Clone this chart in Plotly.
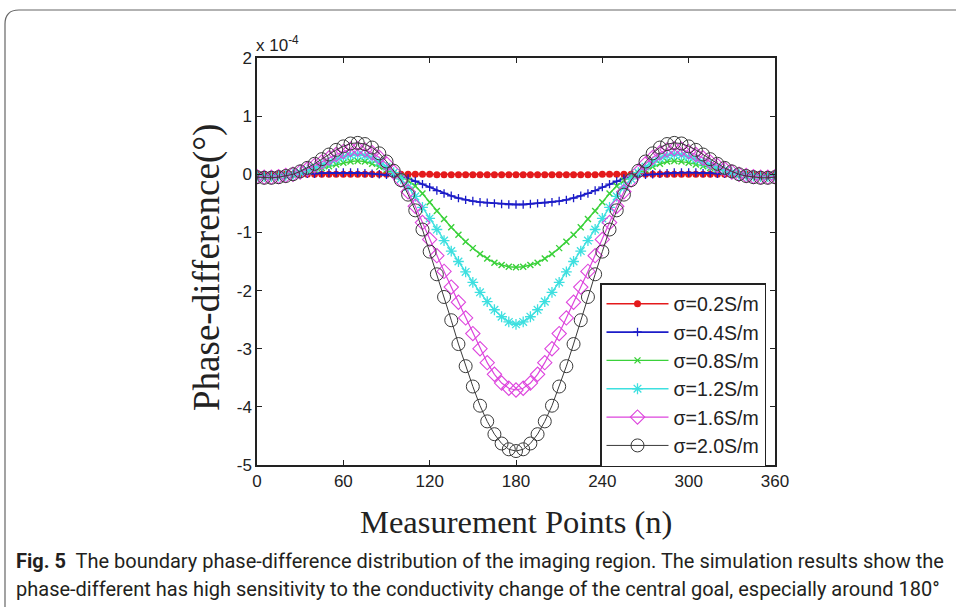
import plotly.graph_objects as go

# ---------------- data ----------------
x_points = list(range(0, 361, 5))

sigma_02 = [0.00, 0.00, 0.00, 0.00, 0.00, 0.00, 0.00, 0.00, 0.00, 0.00, 0.00, 0.00,
            0.00, 0.00, 0.00, 0.00, 0.00, 0.00, 0.00, 0.00, 0.00, 0.00, 0.00, 0.00,
            0.00, -0.01, -0.01, -0.01, -0.01, -0.01, -0.01, -0.01, -0.01, -0.01, -0.01, -0.01,
            -0.01,
            -0.01, -0.01, -0.01, -0.01, -0.01, -0.01, -0.01, -0.01, -0.01, -0.01, -0.01, 0.00,
            0.00, 0.00, 0.00, 0.00, 0.00, 0.00, 0.00, 0.00, 0.00, 0.00, 0.00, 0.00,
            0.00, 0.00, 0.00, 0.00, 0.00, 0.00, 0.00, 0.00, 0.00, 0.00, 0.00, 0.00]

sigma_04 = [-0.02, -0.02, -0.02, -0.01, -0.01, 0.00, 0.00, 0.01, 0.01, 0.02, 0.02, 0.03,
            0.03, 0.03, 0.03, 0.02, 0.01, 0.00, -0.01, -0.02, -0.04, -0.07, -0.12, -0.17,
            -0.22, -0.28, -0.33, -0.37, -0.41, -0.44, -0.46, -0.48, -0.49, -0.50, -0.51, -0.52,
            -0.52,
            -0.52, -0.51, -0.50, -0.49, -0.48, -0.46, -0.44, -0.41, -0.37, -0.33, -0.28, -0.22,
            -0.17, -0.12, -0.07, -0.04, -0.02, -0.01, 0.00, 0.01, 0.02, 0.03, 0.03, 0.03,
            0.03, 0.02, 0.02, 0.01, 0.01, 0.00, 0.00, -0.01, -0.01, -0.02, -0.02, -0.02]

sigma_08 = [-0.02, -0.03, -0.03, -0.02, -0.01, 0.00, 0.02, 0.05, 0.08, 0.11, 0.14, 0.17,
            0.20, 0.22, 0.23, 0.22, 0.18, 0.13, 0.08, 0.02, -0.04, -0.11, -0.20, -0.33,
            -0.48, -0.63, -0.77, -0.91, -1.04, -1.16, -1.27, -1.37, -1.45, -1.52, -1.56, -1.59,
            -1.60,
            -1.59, -1.56, -1.52, -1.45, -1.37, -1.27, -1.16, -1.04, -0.91, -0.77, -0.63, -0.48,
            -0.33, -0.20, -0.11, -0.04, 0.02, 0.08, 0.13, 0.18, 0.22, 0.23, 0.22, 0.20,
            0.17, 0.14, 0.11, 0.08, 0.05, 0.02, 0.00, -0.01, -0.02, -0.03, -0.03, -0.02]

sigma_12 = [-0.03, -0.04, -0.04, -0.03, -0.02, 0.00, 0.03, 0.07, 0.11, 0.16, 0.21, 0.26,
            0.30, 0.33, 0.34, 0.32, 0.28, 0.21, 0.13, 0.03, -0.08, -0.22, -0.38, -0.57,
            -0.76, -0.95, -1.14, -1.32, -1.50, -1.68, -1.86, -2.03, -2.19, -2.33, -2.45, -2.54,
            -2.58,
            -2.54, -2.45, -2.33, -2.19, -2.03, -1.86, -1.68, -1.50, -1.32, -1.14, -0.95, -0.76,
            -0.57, -0.38, -0.22, -0.08, 0.03, 0.13, 0.21, 0.28, 0.32, 0.34, 0.33, 0.30,
            0.26, 0.21, 0.16, 0.11, 0.07, 0.03, 0.00, -0.02, -0.03, -0.04, -0.04, -0.03]

sigma_16 = [-0.04, -0.05, -0.05, -0.04, -0.02, 0.00, 0.04, 0.09, 0.15, 0.21, 0.28, 0.34,
            0.39, 0.43, 0.44, 0.42, 0.37, 0.29, 0.18, 0.04, -0.10, -0.30, -0.55, -0.83,
            -1.12, -1.40, -1.67, -1.94, -2.20, -2.47, -2.74, -3.00, -3.24, -3.44, -3.59, -3.68,
            -3.71,
            -3.68, -3.59, -3.44, -3.24, -3.00, -2.74, -2.47, -2.20, -1.94, -1.67, -1.40, -1.12,
            -0.83, -0.55, -0.30, -0.10, 0.04, 0.18, 0.29, 0.37, 0.42, 0.44, 0.43, 0.39,
            0.34, 0.28, 0.21, 0.15, 0.09, 0.04, 0.00, -0.02, -0.04, -0.05, -0.05, -0.04]

sigma_20 = [-0.05, -0.06, -0.06, -0.05, -0.03, 0.00, 0.05, 0.11, 0.18, 0.26, 0.34, 0.42,
            0.48, 0.53, 0.54, 0.52, 0.46, 0.36, 0.22, 0.06, -0.10, -0.35, -0.62, -0.95,
            -1.33, -1.72, -2.11, -2.51, -2.92, -3.30, -3.65, -3.98, -4.25, -4.47, -4.63, -4.73,
            -4.76,
            -4.73, -4.63, -4.47, -4.25, -3.98, -3.65, -3.30, -2.92, -2.51, -2.11, -1.72, -1.33,
            -0.95, -0.62, -0.35, -0.10, 0.06, 0.22, 0.36, 0.46, 0.52, 0.54, 0.53, 0.48,
            0.42, 0.34, 0.26, 0.18, 0.11, 0.05, 0.00, -0.03, -0.05, -0.06, -0.06, -0.05]

series_names = ["σ=0.2S/m", "σ=0.4S/m", "σ=0.8S/m", "σ=1.2S/m", "σ=1.6S/m", "σ=2.0S/m"]
series_values = [sigma_02, sigma_04, sigma_08, sigma_12, sigma_16, sigma_20]

x_tick_vals = [0, 60, 120, 180, 240, 300, 360]
x_tick_text = ["0", "60", "120", "180", "240", "300", "360"]
y_tick_vals = [-5, -4, -3, -2, -1, 0, 1, 2]
y_tick_text = ["-5", "-4", "-3", "-2", "-1", "0", "1", "2"]

x_title = "Measurement Points (n)"
y_title = "Phase-difference(°)"
exponent_text = "x 10<sup>-4</sup>"
caption_line1 = "<b>Fig. 5</b>  The boundary phase-difference distribution of the imaging region. The simulation results show the"
caption_line2 = "phase-different has high sensitivity to the conductivity change of the central goal, especially around 180°"

# ---------------- styles ----------------
W, H = 956, 607
L, R, T, B = 257, 775, 58, 465   # plot-area pixel box


def px_x(p):
    return (p - L) / (R - L)


def px_y(p):
    return (B - p) / (B - T)


styles = [
    dict(color="#e41a1c", symbol="circle", size=7, lw=1.6, mlw=0),
    dict(color="#1c1cc8", symbol="cross-thin", size=6, lw=1.8, mlw=1.3),
    dict(color="#3ad13a", symbol="x-thin", size=6, lw=1.4, mlw=1.4),
    dict(color="#3ee0e0", symbol="asterisk", size=9, lw=1.4, mlw=1.3),
    dict(color="#dd44dd", symbol="diamond-open", size=11, lw=1.2, mlw=1.1),
    dict(color="#3a3a3a", symbol="circle-open", size=13, lw=1.0, mlw=1.0),
]

fig = go.Figure()
for i, (name, vals, st) in enumerate(zip(series_names, series_values, styles)):
    fig.add_trace(go.Scatter(
        x=x_points, y=vals, name=name, mode="lines+markers",
        legendgroup="g%d" % i,
        line=dict(color=st["color"], width=st["lw"]),
        marker=dict(symbol=st["symbol"], size=st["size"], color=st["color"],
                    line=dict(color=st["color"], width=st["mlw"])),
    ))

axis_common = dict(
    showline=True, linecolor="#222", linewidth=1.5, mirror="ticks",
    ticks="inside", ticklen=5, tickwidth=1, tickcolor="#222",
    showgrid=False, zeroline=False,
    tickfont=dict(family="Liberation Sans, Arial, sans-serif", size=17, color="#222"),
)

fig.update_layout(
    width=W, height=H,
    margin=dict(l=L, r=W - R, t=T, b=H - B, autoexpand=False),
    paper_bgcolor="white", plot_bgcolor="white",
    xaxis=dict(range=[0, 360], tickvals=x_tick_vals, ticktext=x_tick_text, **axis_common),
    yaxis=dict(range=[-5, 2], tickvals=y_tick_vals, ticktext=y_tick_text, **axis_common),
    legend=dict(
        x=px_x(600), y=px_y(283), xanchor="left", yanchor="top",
        bgcolor="white", bordercolor="#222", borderwidth=1.5,
        font=dict(family="Liberation Sans, Arial, sans-serif", size=19.5, color="#222"),
        itemwidth=62, tracegroupgap=0,
    ),
    showlegend=True,
)

annotations = [
    dict(text=exponent_text, x=px_x(254), y=px_y(44), xanchor="left", yanchor="middle",
         font=dict(family="Liberation Sans, Arial, sans-serif", size=17, color="#222")),
    dict(text=y_title, x=px_x(207), y=px_y(268), xanchor="center", yanchor="middle", textangle=-90,
         font=dict(family="Liberation Serif, Times New Roman, serif", size=37, color="#222")),
    dict(text=x_title, x=px_x(516), y=px_y(522), xanchor="center", yanchor="middle",
         font=dict(family="Liberation Serif, Times New Roman, serif", size=32.5, color="#222")),
    dict(text=caption_line1, x=px_x(14), y=px_y(561), xanchor="left", yanchor="middle",
         font=dict(family="Roboto, sans-serif", size=20, color="#231f20")),
    dict(text=caption_line2, x=px_x(14), y=px_y(589), xanchor="left", yanchor="middle",
         font=dict(family="Roboto, sans-serif", size=20, color="#231f20")),
]
for a in annotations:
    a.update(xref="paper", yref="paper", showarrow=False)
fig.update_layout(annotations=annotations)

# rounded frame around the figure
fx0, fy0, fr = 5, 10, 14
frame_path = "M {:.5f},{:.5f} L {:.5f},{:.5f} Q {:.5f},{:.5f} {:.5f},{:.5f} L {:.5f},{:.5f}".format(
    px_x(fx0), px_y(H + 5),
    px_x(fx0), px_y(fy0 + fr),
    px_x(fx0), px_y(fy0), px_x(fx0 + fr), px_y(fy0),
    px_x(W + 5), px_y(fy0),
)
fig.add_shape(type="path", path=frame_path, xref="paper", yref="paper",
              line=dict(color="#666", width=1.2))

fig.write_html("out.html")
